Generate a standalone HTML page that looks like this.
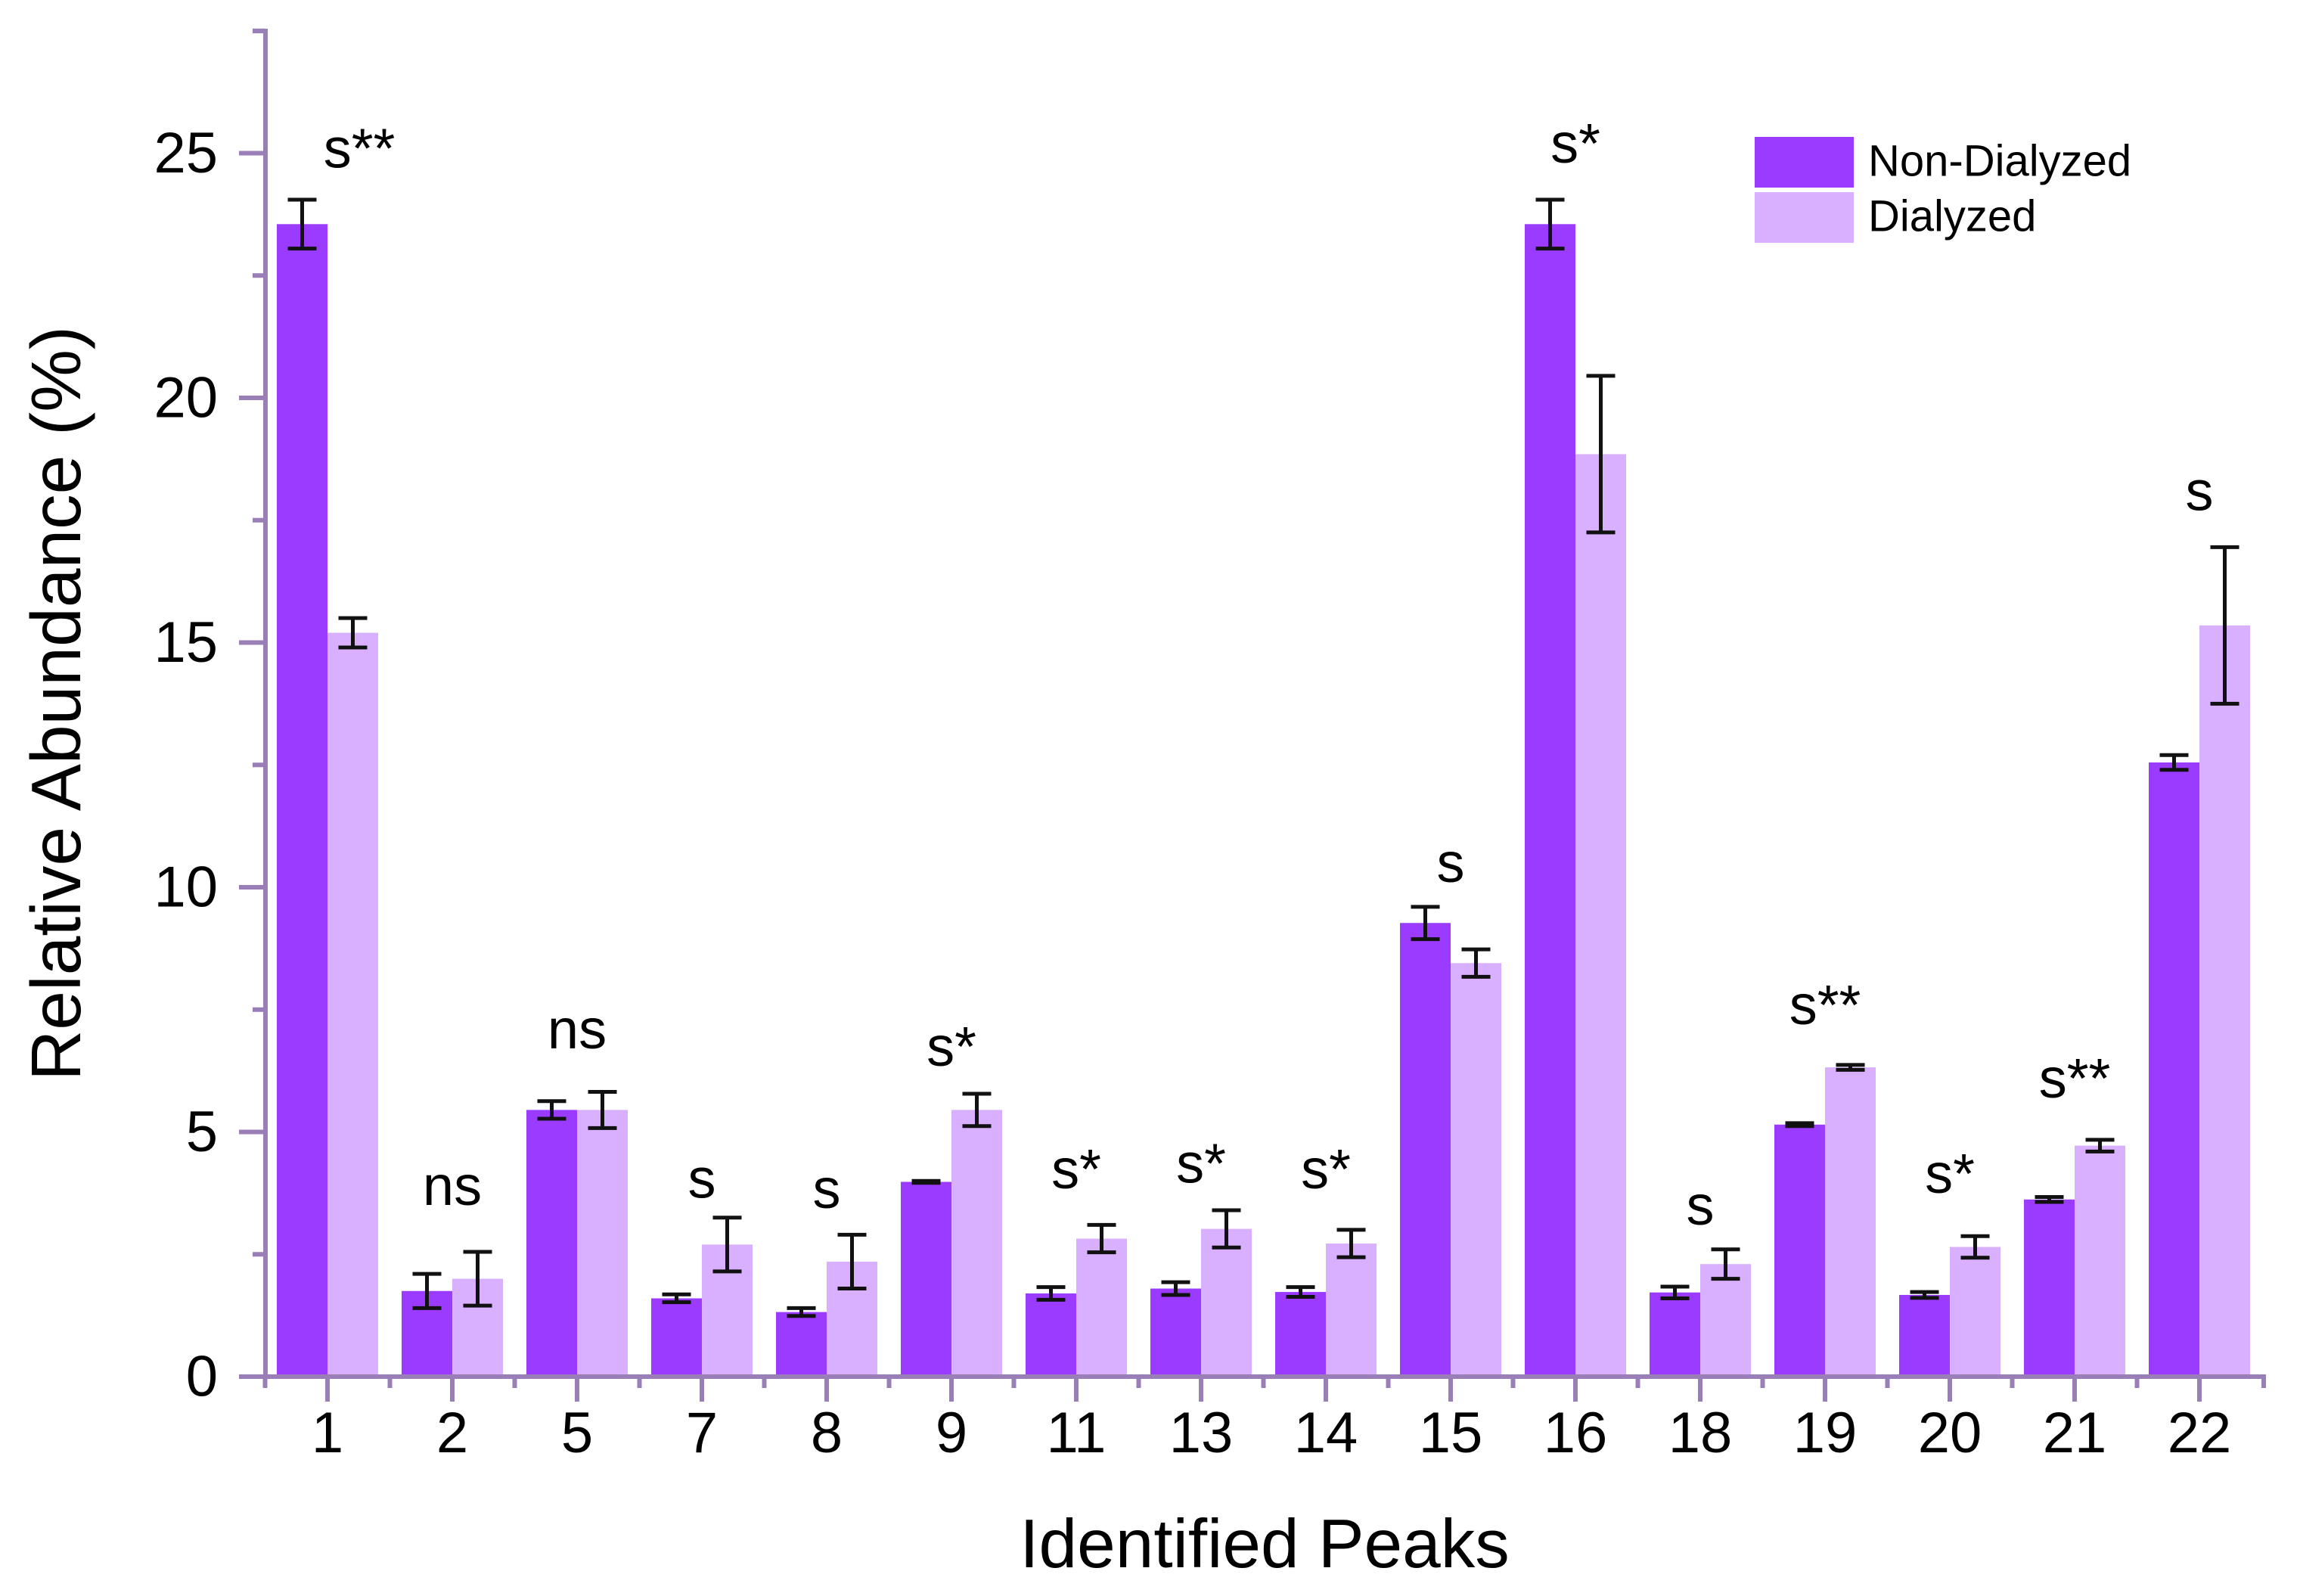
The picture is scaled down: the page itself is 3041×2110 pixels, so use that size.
<!DOCTYPE html>
<html><head><meta charset="utf-8"><style>
html,body{margin:0;padding:0;background:#fff;}
svg{display:block;font-family:"Liberation Sans",Arial,sans-serif;}
</style></head><body>
<svg id="chart" width="3041" height="2110" viewBox="0 0 3041 2110" xmlns="http://www.w3.org/2000/svg">
<g id="plot"></g>
</svg>
<script>
const categories = ["1","2","5","7","8","9","11","13","14","15","16","18","19","20","21","22"];
const nonDialyzed = [23.55,1.75,5.45,1.6,1.32,3.98,1.7,1.8,1.73,9.27,23.55,1.72,5.15,1.67,3.62,12.55];
const nonDialyzedErr = [0.5,0.35,0.18,0.08,0.08,0.02,0.13,0.13,0.1,0.33,0.5,0.12,0.03,0.06,0.05,0.15];
const dialyzed = [15.2,2.0,5.45,2.7,2.35,5.45,2.82,3.02,2.72,8.45,18.85,2.3,6.32,2.65,4.72,15.35];
const dialyzedErr = [0.3,0.55,0.37,0.55,0.55,0.33,0.28,0.38,0.28,0.28,1.6,0.3,0.05,0.22,0.12,1.6];
const sigLabels = ["s**","ns","ns","s","s","s*","s*","s*","s*","s","s*","s","s**","s*","s**","s"];
const sigLevels = [25.1,3.9,7.1,4.05,3.84,6.75,4.24,4.36,4.24,10.5,25.2,3.5,7.6,4.15,6.1,18.1];
const yTicks = [0,5,10,15,20,25];

const NS="http://www.w3.org/2000/svg";
const g=document.getElementById('plot');
const AX="#9a7eb8";
const X0=351, Y0=1820, PXU=64.7, GW=165, C0=433, BW=67;
function yS(v){return Y0 - v*PXU;}
function xS(i){return C0 + i*GW;}
function mk(tag,attrs,parent){const e=document.createElementNS(NS,tag);for(const k in attrs)e.setAttribute(k,attrs[k]);(parent||g).appendChild(e);return e;}

categories.forEach((c,i)=>{
  const cx=xS(i);
  const b1=mk('rect',{x:cx-BW,y:yS(nonDialyzed[i]),width:BW,height:nonDialyzed[i]*PXU,fill:'#9b3bff'});
  
  
  const b2=mk('rect',{x:cx,y:yS(dialyzed[i]),width:BW,height:dialyzed[i]*PXU,fill:'#d8b0ff'});
  
  
  [[cx-BW/2,nonDialyzed[i],nonDialyzedErr[i],'non-dialyzed'],[cx+BW/2,dialyzed[i],dialyzedErr[i],'dialyzed']].forEach(([ex,v,e,n])=>{
    const eg=mk('g',{stroke:'#111','stroke-width':5});
    
    
    mk('line',{x1:ex,x2:ex,y1:yS(v+e),y2:yS(v-e)},eg);
    mk('line',{x1:ex-19,x2:ex+19,y1:yS(v+e),y2:yS(v+e)},eg);
    mk('line',{x1:ex-19,x2:ex+19,y1:yS(v-e),y2:yS(v-e)},eg);
  });
  const t=mk('text',{x:cx+(i===0?42:0),y:yS(sigLevels[i]),'text-anchor':'middle','dominant-baseline':'central','font-size':74,fill:'#000'});
  t.textContent=sigLabels[i];
  
  
});

const ax=mk('g',{stroke:AX,'stroke-width':6,fill:'none'});


mk('line',{x1:X0,x2:X0,y1:38,y2:Y0+3},ax);
mk('line',{x1:316,x2:2996,y1:Y0,y2:Y0},ax);
for(let v=0;v<=27.5;v+=2.5){
  const major = Math.abs(v%5)<1e-6;
  mk('line',{x1:major?316:334,x2:X0,y1:yS(v),y2:yS(v)},ax);
}
mk('line',{x1:334,x2:X0,y1:41,y2:41},ax);
yTicks.forEach(v=>{
  const t=mk('text',{x:288,y:yS(v),'text-anchor':'end','dominant-baseline':'central','font-size':76,fill:'#000'});
  t.textContent=v;
  
  
});
categories.forEach((c,i)=>{
  mk('line',{x1:xS(i),x2:xS(i),y1:Y0,y2:1853},ax);
  mk('line',{x1:xS(i)-GW/2,x2:xS(i)-GW/2,y1:Y0,y2:1835},ax);
  const t=mk('text',{x:xS(i),y:1920,'text-anchor':'middle','font-size':76,fill:'#000'});
  t.textContent=c;
  
  
});
mk('line',{x1:2993,x2:2993,y1:Y0,y2:1835},ax);

const yt=mk('text',{x:0,y:0,transform:'translate(106,930) rotate(-90)','text-anchor':'middle','font-size':93,fill:'#000'});
yt.textContent='Relative Abundance (%)';


const xt=mk('text',{x:1672,y:2072,'text-anchor':'middle','font-size':91,fill:'#000'});
xt.textContent='Identified Peaks';



const lg=mk('g',{});


[['Non-Dialyzed','#9b3bff',181],['Dialyzed','#d8b0ff',254]].forEach(([n,col,y])=>{
  const e=mk('g',{},lg);
  
  
  mk('rect',{x:2320,y:y,width:131,height:67,fill:col},e);
  const t=mk('text',{x:2470,y:y+32,'dominant-baseline':'central','font-size':58,fill:'#000'},e);
  t.textContent=n;
});
</script>
</body></html>
